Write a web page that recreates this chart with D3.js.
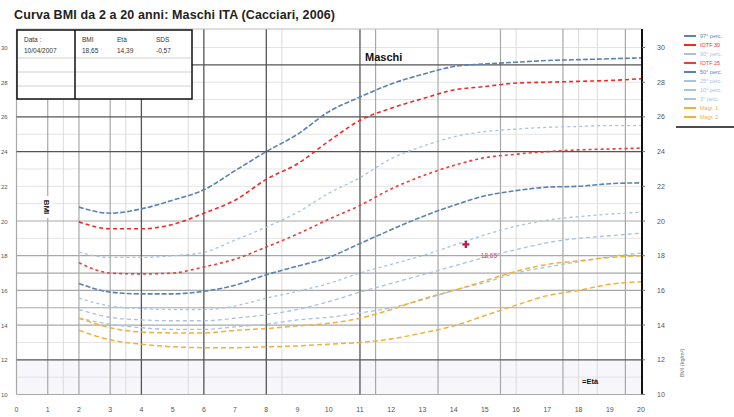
<!DOCTYPE html>
<html>
<head>
<meta charset="utf-8">
<script src="https://cdn.jsdelivr.net/npm/d3@7"></script>
<style>
  body { margin: 0; background: #fff; }
  svg { font-family: "Liberation Sans", Arial, sans-serif; display: block; }
</style>
</head>
<body>
<svg id="chart" width="734" height="417"></svg>
<script>
// ages (anni) used by every curve
const ages = [2, 3, 4, 5, 6, 7, 8, 9, 10, 11, 12, 13, 14, 15, 16, 17, 18, 19, 20];

// BMI curves, top to bottom
const p97   = [20.8, 20.45, 20.7, 21.2, 21.8, 22.9, 24.0, 25.0, 26.3, 27.15, 27.9, 28.45, 28.9, 29.05, 29.15, 29.25, 29.3, 29.35, 29.4];
const obes  = [19.95, 19.55, 19.55, 19.8, 20.45, 21.2, 22.4, 23.3, 24.6, 25.8, 26.5, 27.05, 27.55, 27.75, 27.95, 28.0, 28.05, 28.1, 28.2];
const p90   = [18.2, 17.9, 17.9, 18.0, 18.2, 18.9, 19.65, 20.5, 21.6, 22.5, 23.6, 24.3, 24.85, 25.15, 25.3, 25.4, 25.45, 25.5, 25.5];
const overw = [17.6, 17.0, 16.95, 17.0, 17.35, 17.8, 18.5, 19.25, 20.1, 20.9, 21.85, 22.6, 23.2, 23.65, 23.85, 24.0, 24.1, 24.15, 24.2];
const p50   = [16.4, 15.9, 15.8, 15.8, 15.95, 16.3, 16.9, 17.4, 17.9, 18.7, 19.5, 20.25, 20.9, 21.45, 21.75, 21.95, 22.0, 22.15, 22.2];
const p25   = [15.55, 15.1, 14.95, 14.9, 14.9, 15.1, 15.55, 15.95, 16.4, 17.0, 17.5, 18.0, 18.6, 19.2, 19.7, 20.05, 20.25, 20.4, 20.5];
const p10   = [14.9, 14.45, 14.3, 14.25, 14.25, 14.4, 14.6, 14.9, 15.35, 15.9, 16.4, 16.9, 17.4, 17.9, 18.35, 18.75, 19.0, 19.15, 19.3];
const p3    = [14.4, 14.05, 13.85, 13.75, 13.75, 13.9, 14.05, 14.3, 14.45, 14.7, 15.0, 15.45, 16.0, 16.45, 17.0, 17.35, 17.65, 17.95, 18.15];
const thin1 = [14.4, 13.85, 13.6, 13.55, 13.55, 13.7, 13.8, 13.95, 14.1, 14.4, 14.9, 15.5, 16.0, 16.55, 17.1, 17.5, 17.7, 17.9, 18.0];
const thin2 = [13.7, 13.15, 12.9, 12.75, 12.7, 12.7, 12.75, 12.8, 12.9, 13.0, 13.2, 13.55, 13.95, 14.55, 15.15, 15.7, 16.0, 16.35, 16.5];

const seriesNames = ['97° perc.', 'IOTF 30', '90° perc.', 'IOTF 25', '50° perc.', '25° perc.', '10° perc.', '3° perc.', 'Magr. 1', 'Magr. 2'];
const seriesValues = [p97, obes, p90, overw, p50, p25, p10, p3, thin1, thin2];
const seriesColors = ['#5a82b4', '#f02828', '#a9c2e0', '#f23a3a', '#5a82b4', '#a9c2e0', '#a9c2e0', '#a9c2e0', '#eeb23a', '#eeb23a'];

// axis ticks
const xTicks = d3.range(0, 21);
const yTicks = [10, 12, 14, 16, 18, 20, 22, 24, 26, 28, 30];

// grid (background of the Excel sheet)
const darkRows = [12, 24, 26, 29];
const midRows = [10, 14, 15, 16, 17, 18, 20];
const lightRows = [11, 13, 19, 21, 22, 23, 25, 27, 28, 30];
const darkCols = [4, 6, 8, 11];
const midCols = [0, 1, 2, 3, 11.5, 13.5, 15.5, 17.5, 19.5];
const lightCols = [1.5, 3.5, 5.5, 8.5, 16, 18, 18.6];

// patient point
const patientAge = 14.39;
const patientBmi = 18.65;
const tableHead = ['Data :', 'BMI', 'Età', 'SDS'];
const tableRow = ['10/04/2007', '18,65', '14,39', '-0,57'];

const svg = d3.select('#chart');
const x = d3.scaleLinear().domain([0, 20]).range([16.5, 641]);
const y = d3.scaleLinear().domain([10, 30]).range([394.5, 47.5]);
const yTop = 29;

// title
svg.append('text')
    .attr('x', 14).attr('y', 19)
    .attr('font-size', '12.5px').attr('font-weight', 'bold').attr('fill', '#222')
    .attr('textLength', 321)
    .text('Curva BMI da 2 a 20 anni: Maschi ITA (Cacciari, 2006)');

// faint band under BMI 12
svg.append('rect')
    .attr('x', x(0)).attr('y', y(12))
    .attr('width', x(20) - x(0)).attr('height', y(10) - y(12))
    .attr('fill', '#f7f6fb');

const grid = svg.append('g');
function hLines(vals, color, w) {
    grid.selectAll(null).data(vals).enter().append('line')
        .attr('x1', x(0)).attr('x2', x(20))
        .attr('y1', d => y(d)).attr('y2', d => y(d))
        .attr('stroke', color).attr('stroke-width', w);
}
function vLines(vals, color, w) {
    grid.selectAll(null).data(vals).enter().append('line')
        .attr('x1', d => x(d)).attr('x2', d => x(d))
        .attr('y1', yTop).attr('y2', y(10))
        .attr('stroke', color).attr('stroke-width', w);
}
hLines(lightRows, '#e4e4e4', 1);
vLines(lightCols, '#dcdcdc', 1);
hLines(midRows, '#a8a8a8', 1.2);
vLines(midCols, '#a8a8a8', 1.2);
hLines(darkRows, '#555', 1.3);
vLines(darkCols, '#555', 1.3);

// frame
svg.append('line').attr('x1', x(0)).attr('x2', x(20)).attr('y1', yTop).attr('y2', yTop)
    .attr('stroke', '#bbb').attr('stroke-width', 1.2);
svg.append('line').attr('x1', x(20) + 1).attr('x2', x(20) + 1).attr('y1', yTop).attr('y2', y(10))
    .attr('stroke', '#111').attr('stroke-width', 2);

// table in top-left corner
const tb = svg.append('g');
tb.append('rect').attr('x', 17).attr('y', 30).attr('width', 175).attr('height', 69)
    .attr('fill', '#fff').attr('stroke', '#111').attr('stroke-width', 1.5);
[58, 72, 86].forEach(v => tb.append('line').attr('x1', 18).attr('x2', 191).attr('y1', v).attr('y2', v)
    .attr('stroke', '#d0d0d0'));
tb.append('line').attr('x1', 75).attr('x2', 75).attr('y1', 30).attr('y2', 99)
    .attr('stroke', '#111').attr('stroke-width', 1.5);
const colX = [24, 82, 117, 156];
tableHead.forEach((t, i) => tb.append('text').attr('x', colX[i]).attr('y', 42)
    .attr('font-size', '6.5px').attr('fill', '#333').text(t));
tableRow.forEach((t, i) => tb.append('text').attr('x', colX[i]).attr('y', 53)
    .attr('font-size', '6.5px').attr('fill', '#333').text(t));

// curves
const line = d3.line()
    .x((d, i) => x(ages[i]))
    .y(d => y(d))
    .curve(d3.curveMonotoneX);

const dashes = ['5,2', '4,3', '3,3', '3,3', '5,2', '3,3', '4,3', '4,3', '5,3', '5,3'];
const widths = [1.6, 1.6, 1.3, 1.6, 1.6, 1.3, 1.3, 1.3, 1.5, 1.5];
svg.append('g').selectAll('path')
    .data(seriesValues)
    .enter().append('path')
    .attr('d', d => line(d))
    .attr('fill', 'none')
    .attr('stroke', (d, i) => seriesColors[i])
    .attr('stroke-width', (d, i) => widths[i])
    .attr('stroke-dasharray', (d, i) => dashes[i]);

// patient point
svg.append('path')
    .attr('d', d3.symbol(d3.symbolCross, 28)())
    .attr('transform', `translate(${x(patientAge)},${y(patientBmi)})`)
    .attr('fill', '#c8184a');
svg.append('text')
    .attr('x', x(patientAge) + 15).attr('y', y(patientBmi) + 14)
    .attr('font-size', '6.5px').attr('fill', '#d04a78')
    .text(patientBmi.toFixed(2).replace('.', ','));

// labels in the plot
svg.append('text').attr('x', 365).attr('y', 61)
    .attr('font-size', '11px').attr('font-weight', 'bold').attr('fill', '#111').text('Maschi');
svg.append('text').attr('x', 582).attr('y', 384)
    .attr('font-size', '7.5px').attr('font-weight', 'bold').attr('fill', '#111').text('=Età');

const yt = svg.append('g').attr('transform', `translate(47,207) rotate(90)`);
yt.append('rect').attr('x', -11).attr('y', -6).attr('width', 22).attr('height', 11).attr('fill', '#fff');
yt.append('text').attr('text-anchor', 'middle').attr('y', 3)
    .attr('font-size', '8px').attr('font-weight', 'bold').attr('fill', '#222').text('BMI');

// axes labels
svg.append('g').selectAll('text').data(xTicks).enter().append('text')
    .attr('x', d => x(d)).attr('y', 412)
    .attr('text-anchor', 'middle').attr('font-size', '7px').attr('fill', '#555')
    .text(d => d);
svg.append('g').selectAll('text').data(yTicks).enter().append('text')
    .attr('x', 661).attr('y', d => y(d) + 2.5)
    .attr('text-anchor', 'middle').attr('font-size', '7px').attr('fill', '#555')
    .text(d => d);
svg.append('g').selectAll('text').data(yTicks).enter().append('text')
    .attr('x', 1).attr('y', d => y(d) + 2.5)
    .attr('text-anchor', 'start').attr('font-size', '6px').attr('fill', '#555')
    .text(d => d);
svg.append('g').selectAll('line').data(yTicks).enter().append('line')
    .attr('x1', x(20) + 1).attr('x2', x(20) + 4)
    .attr('y1', d => y(d)).attr('y2', d => y(d))
    .attr('stroke', '#777');

svg.append('text')
    .attr('transform', 'translate(684,363) rotate(-90)')
    .attr('text-anchor', 'middle').attr('font-size', '5.5px').attr('fill', '#777')
    .text('BMI (kg/m²)');

// legend
const lg = svg.append('g');
const legendY = d3.range(seriesNames.length).map(i => 36 + i * 9);
seriesNames.forEach((n, i) => {
    lg.append('line').attr('x1', 684).attr('x2', 696)
        .attr('y1', legendY[i]).attr('y2', legendY[i])
        .attr('stroke', seriesColors[i]).attr('stroke-width', 2);
    lg.append('text').attr('x', 700).attr('y', legendY[i] + 2)
        .attr('font-size', '5.5px').attr('fill', seriesColors[i]).text(n);
});
lg.append('line').attr('x1', 676).attr('x2', 734).attr('y1', 127).attr('y2', 127)
    .attr('stroke', '#111').attr('stroke-width', 1.5);
</script>
</body>
</html>
